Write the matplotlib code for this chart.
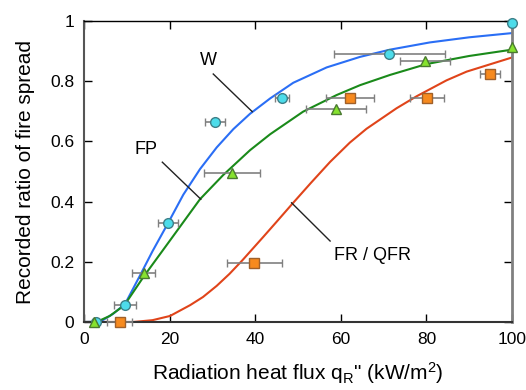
import numpy as np
import matplotlib
matplotlib.use('Agg')
import matplotlib.pyplot as plt

plt.rcParams['font.family'] = ['Liberation Sans', 'DejaVu Sans']
plt.rcParams['mathtext.fontset'] = 'custom'
plt.rcParams['mathtext.rm'] = 'Liberation Sans'
plt.rcParams['mathtext.it'] = 'Liberation Sans'

###############################################################
# data
###############################################################
# measured points (W = circles, FP = triangles, FR/QFR = squares)
w_x = [2.7, 9.6, 19.6, 30.6, 46.3, 71.3, 100]
w_y = [0, 0.058, 0.329, 0.665, 0.744, 0.89, 0.995]
w_err = [0, 2.5, 2.3, 2.3, 1.7, 13.0, 0]

fp_x = [2.4, 14.0, 34.6, 58.9, 79.7, 100]
fp_y = [0, 0.164, 0.496, 0.708, 0.867, 0.914]
fp_err = [0, 2.7, 6.5, 7.1, 5.8, 0]

fr_x = [8.3, 39.8, 62.1, 80.1, 94.9]
fr_y = [0, 0.197, 0.743, 0.743, 0.825]
fr_err = [3.0, 6.5, 5.6, 4.0, 2.4]

# fitted curves
w_cx = [0, 3, 4.5, 6.8, 9.6, 13.1, 16, 19.5, 23.2, 27.1, 31, 34.9, 38.8,
        43.5, 48.9, 56.7, 64.5, 71.5, 80.8, 90, 100]
w_cy = [0, 0.001, 0.007, 0.027, 0.06, 0.155, 0.235, 0.325, 0.423, 0.508,
        0.58, 0.641, 0.692, 0.743, 0.795, 0.846, 0.881, 0.905, 0.929,
        0.946, 0.96]

fp_cx = [0, 2.4, 3.7, 6, 9.4, 14, 20.3, 27.1, 32.5, 38.8, 43.5, 51.2, 59,
         64.5, 71.5, 80, 90, 100]
fp_cy = [0, 0, 0.005, 0.02, 0.055, 0.152, 0.275, 0.408, 0.488, 0.571,
         0.624, 0.699, 0.754, 0.787, 0.821, 0.857, 0.884, 0.905]

fr_cx = [0, 11.5, 16, 20.1, 24.8, 27.8, 31, 34, 37, 41.9, 45, 48.5, 53,
         57.5, 62.1, 66, 73, 77.7, 84.7, 89.4, 100]
fr_cy = [0, 0, 0.006, 0.02, 0.056, 0.083, 0.12, 0.16, 0.205, 0.283, 0.333,
         0.39, 0.462, 0.532, 0.596, 0.642, 0.71, 0.75, 0.803, 0.832, 0.879]

x_ticks = [0, 20, 40, 60, 80, 100]
y_ticks = [0, 0.2, 0.4, 0.6, 0.8, 1]
y_labels = ['0', '0.2', '0.4', '0.6', '0.8', '1']

###############################################################
# plot
###############################################################
fig = plt.figure(figsize=(5.26, 3.90), dpi=100)
ax = fig.add_axes([0.1597, 0.1744, 0.8137, 0.7716])

ax.plot(w_cx, w_cy, color='#2a6ef5', lw=1.5, zorder=2)
ax.plot(fp_cx, fp_cy, color='#1a8a1a', lw=1.5, zorder=2)
ax.plot(fr_cx, fr_cy, color='#e0441a', lw=1.5, zorder=2)

ekw = dict(ecolor='#808080', elinewidth=1.2, capsize=3, capthick=1.2,
           ls='none', clip_on=False, zorder=3)
ax.errorbar(w_x, w_y, xerr=w_err, fmt='o', ms=7, mfc='#4ddcea',
            mec='#3d7f88', mew=1, **ekw)
ax.errorbar(fp_x, fp_y, xerr=fp_err, fmt='^', ms=7.5, mfc='#86e22e',
            mec='#4a7a30', mew=1, **ekw)
ax.errorbar(fr_x, fr_y, xerr=fr_err, fmt='s', ms=7, mfc='#f78a1e',
            mec='#a0602a', mew=1, **ekw)

# labels with leader lines
ax.text(29, 0.87, 'W', fontsize=13, ha='center', va='center')
ax.plot([30.2, 39.3], [0.824, 0.699], color='#222222', lw=1)
ax.text(14.5, 0.572, 'FP', fontsize=13, ha='center', va='center')
ax.plot([18.3, 27.3], [0.531, 0.408], color='#222222', lw=1)
ax.text(67.5, 0.22, 'FR / QFR', fontsize=13, ha='center', va='center')
ax.plot([57.5, 48.5], [0.269, 0.396], color='#222222', lw=1)

ax.set_xlim(0, 100)
ax.set_ylim(0, 1)
ax.set_xticks(x_ticks)
ax.set_yticks(y_ticks)
ax.set_yticklabels(y_labels)
ax.tick_params(direction='in', length=6, top=True, right=True,
               labelsize=12.5, pad=7, width=1)

ax.spines['left'].set_color('#555555')
ax.spines['left'].set_linewidth(1.5)
ax.spines['bottom'].set_color('#333333')
ax.spines['bottom'].set_linewidth(1.5)
ax.spines['right'].set_color('#808080')
ax.spines['right'].set_linewidth(2)
ax.spines['top'].set_color('black')
ax.spines['top'].set_linewidth(1)

ax.set_xlabel(r'Radiation heat flux q$_R$" (kW/m$^2$)', fontsize=15, labelpad=10)
ax.set_ylabel('Recorded ratio of fire spread', fontsize=15, labelpad=11)

plt.savefig('out.png', dpi=100)
